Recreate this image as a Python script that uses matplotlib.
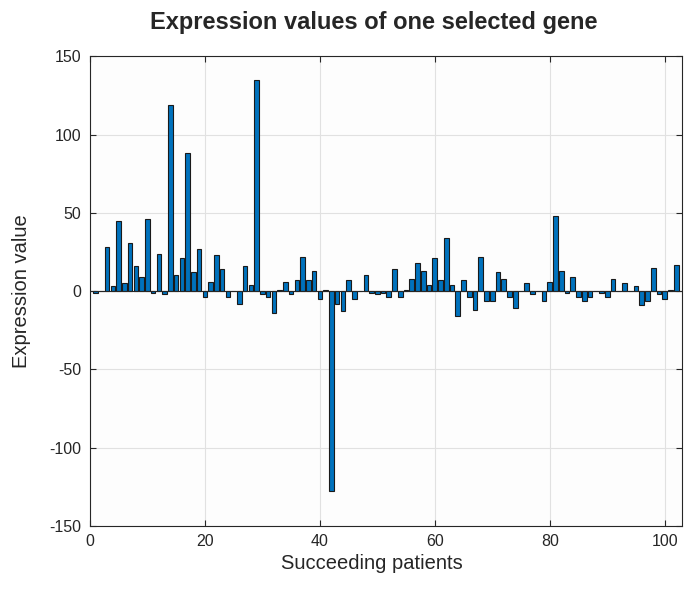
import numpy as np
import matplotlib.pyplot as plt

plt.rcParams['font.family'] = ['Liberation Sans', 'DejaVu Sans']
plt.rcParams['axes.unicode_minus'] = False

# patient index 1..102
pacientes = np.arange(1, 103)
valores = [
    -1, 0, 28, 3, 45, 5, 31, 16, 9, 46,
    -1, 24, -2, 119, 10, 21, 88, 12, 27, -4,
    6, 23, 14, -4, 0, -8, 16, 4, 135, -2,
    -4, -14, 1, 6, -2, 7, 22, 7, 13, -5,
    1, -128, -8, -13, 7, -5, 0, 10, -1, -2,
    -1, -4, 14, -4, 1, 8, 18, 13, 4, 21,
    7, 34, 4, -16, 7, -4, -12, 22, -6, -6,
    12, 8, -4, -11, 0, 5, -2, 0, -6, 6,
    48, 13, -1, 9, -4, -6, -4, 0, -1, -4,
    8, 0, 5, 0, 3, -9, -6, 15, -2, -5,
    1, 17,
]
xticks = [0, 20, 40, 60, 80, 100]
yticks = [-150, -100, -50, 0, 50, 100, 150]

fig = plt.figure(figsize=(6.91, 5.99), dpi=100)
ax = fig.add_axes([0.130, 0.122, 0.857, 0.784])
ax.set_facecolor('#fdfdfd')

ax.bar(pacientes, valores, width=0.8, color='#0072BD', edgecolor='#1a1a1a',
       linewidth=0.8, zorder=3)
ax.axhline(0, color='#262626', linewidth=0.8, zorder=4)

ax.set_xlim(0, 103)
ax.set_ylim(-150, 150)
ax.set_xticks(xticks)
ax.set_yticks(yticks)
ax.grid(True, color='#e1e1e1', linewidth=0.8, zorder=0)

for s in ax.spines.values():
    s.set_color('#262626')
    s.set_linewidth(0.8)
ax.tick_params(direction='in', top=True, right=True, length=4, width=0.8,
               color='#262626', labelsize=11.5, labelcolor='#262626', pad=6)

ax.set_xlabel('Succeeding patients', fontsize=14.5, color='#262626', va='center')
ax.set_ylabel('Expression value', fontsize=14.5, color='#262626', va='center')
ax.xaxis.set_label_coords(0.476, -0.079)
ax.yaxis.set_label_coords(-0.115, 0.5)
fig.text(0.541, 0.962, 'Expression values of one selected gene', ha='center',
         va='center', fontsize=17, fontweight='bold', color='#262626')

plt.savefig('out.png', dpi=100)
